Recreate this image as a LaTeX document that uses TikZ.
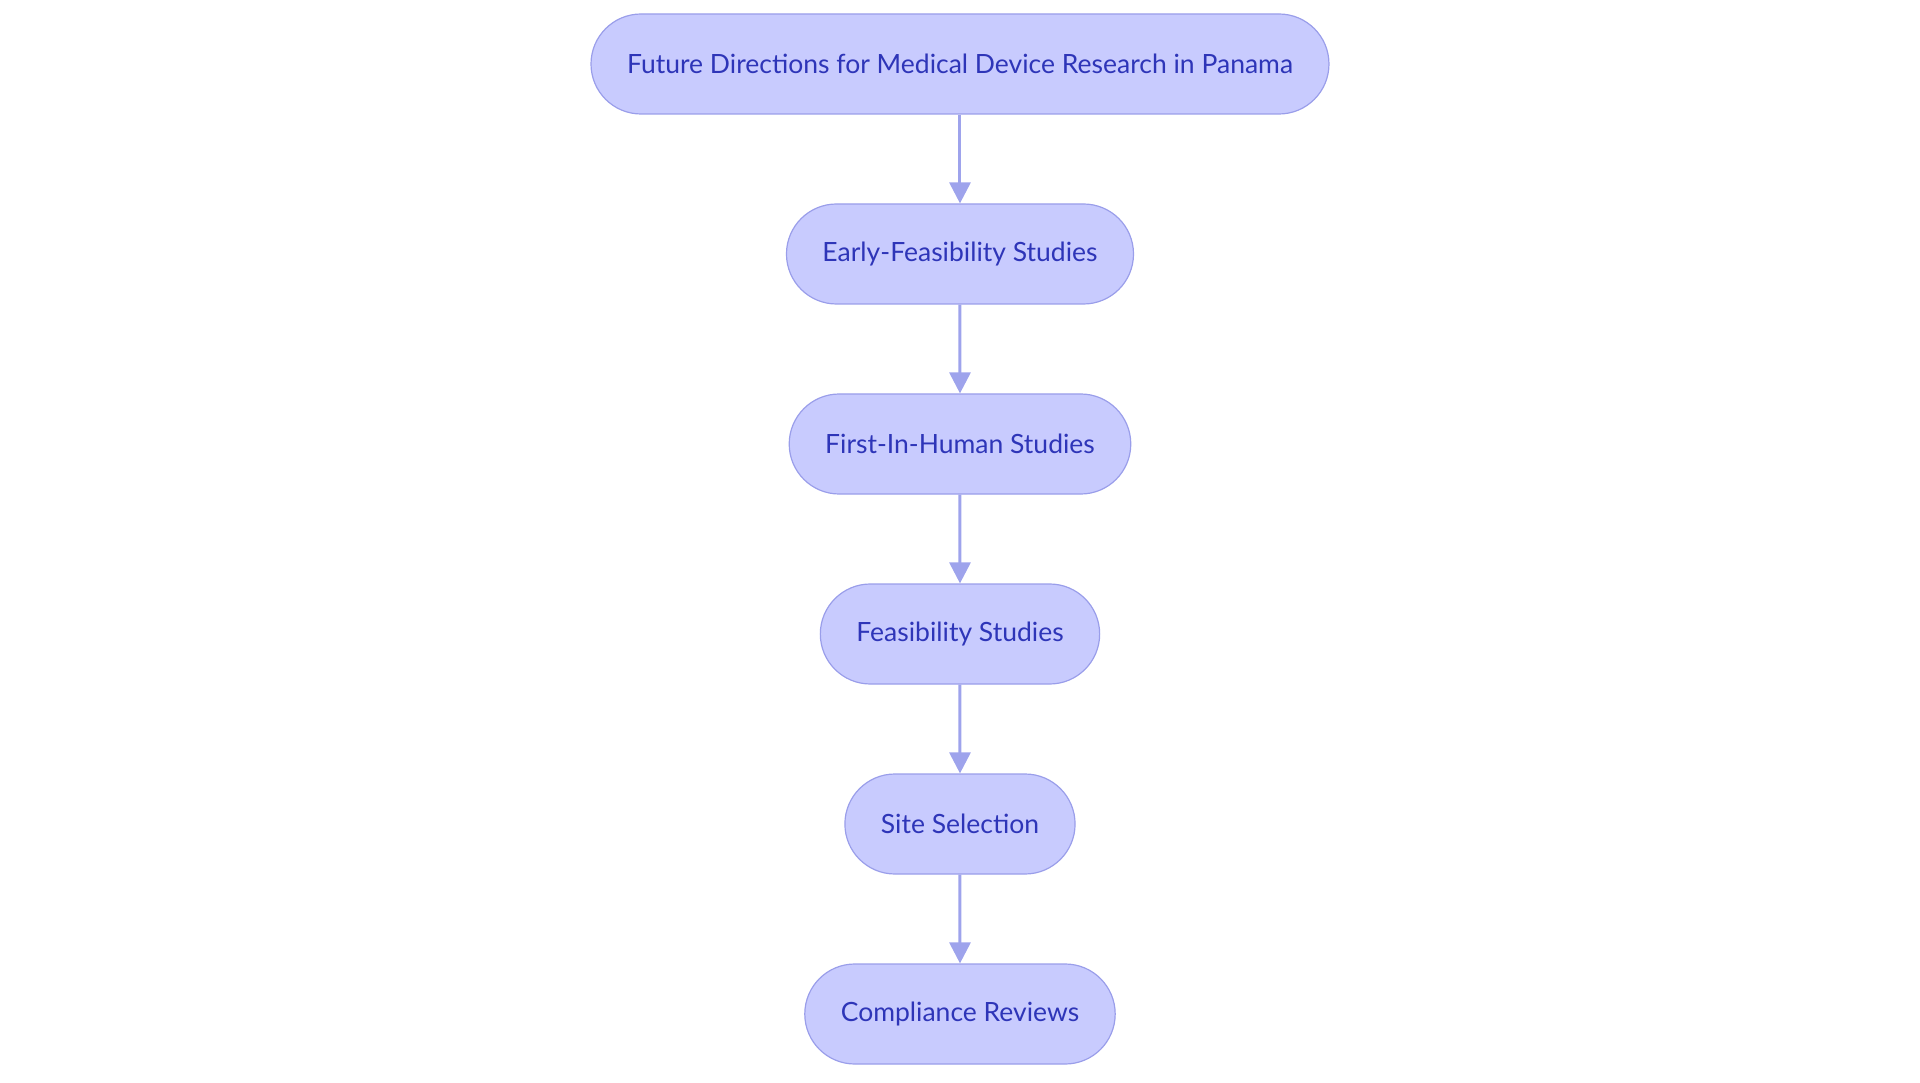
\documentclass[tikz,border=0pt]{standalone}
\usepackage{fontspec}
\setmainfont{Lato}
\usetikzlibrary{arrows.meta}
\definecolor{boxfill}{HTML}{C8CBFE}
\definecolor{boxline}{HTML}{9A9EEA}
\definecolor{boxtext}{HTML}{2E35B8}
\definecolor{arrowcol}{HTML}{9EA3EC}
\tikzset{
  pill/.style={draw=boxline, line width=1.2pt, fill=boxfill, text=boxtext,
    rounded corners=50pt, minimum height=100pt, inner xsep=36pt,
    font=\fontsize{26.5}{31}\selectfont}
}
\begin{document}
\begin{tikzpicture}[level distance=190pt,
  every node/.style={pill},
  edge from parent/.style={draw=arrowcol, line width=3pt,
    -{Triangle[length=21pt,width=21pt]}}]
  \useasboundingbox (-960pt,64pt) rectangle (960pt,-1019pt);
  \node (future) {Future Directions for Medical Device Research in Panama}
    child {node (early) {Early-Feasibility Studies}
      child {node (fih) {First-In-Human Studies}
        child {node (feas) {Feasibility Studies}
          child {node (site) {Site Selection}
            child {node (comp) {Compliance Reviews}}
          }
        }
      }
    };
\end{tikzpicture}
\end{document}
